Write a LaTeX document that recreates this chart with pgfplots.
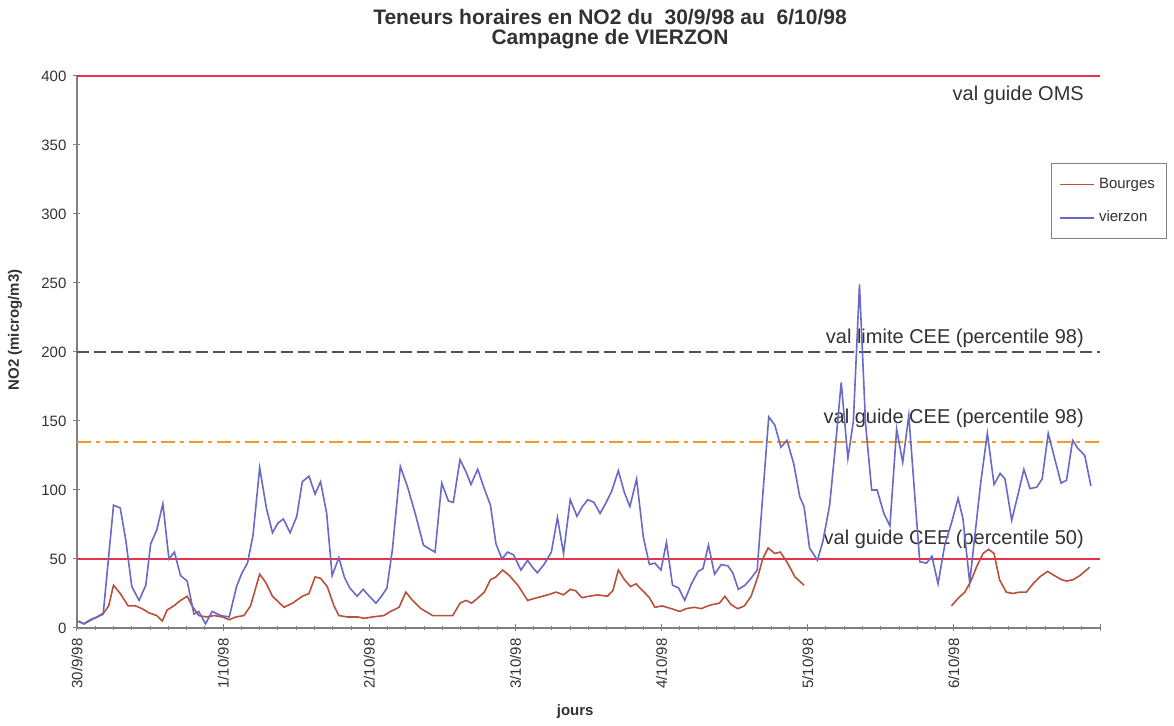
\documentclass[border=0pt]{standalone}
\usepackage{fontspec}
\setmainfont{Liberation Sans}
\usepackage{pgfplots}
\pgfplotsset{compat=1.18}
\usetikzlibrary{calc}

\definecolor{bourges}{RGB}{185,80,60}
\definecolor{vierzon}{RGB}{105,105,200}
\definecolor{refred}{RGB}{232,50,75}
\definecolor{refdark}{RGB}{85,75,115}
\definecolor{reforange}{RGB}{240,155,40}
\definecolor{txt}{RGB}{50,50,50}

\begin{document}
\begin{tikzpicture}[font=\fontsize{10}{12}\selectfont]
\begin{axis}[
    scale only axis, width=511.5pt, height=276pt,
    xmin=0, xmax=168, ymin=0, ymax=400,
    clip=false,
    axis x line=bottom, axis y line=left,
    axis line style={-, gray, line width=0.6pt},
    tick style={gray, line width=0.5pt},
    tick align=center, major tick length=3.5pt, minor tick length=2pt,
    xtick={0,24,...,168},
    xticklabels={30/9/98,1/10/98,2/10/98,3/10/98,4/10/98,5/10/98,6/10/98,{}},
    minor x tick num=7,
    ytick={0,50,...,400},
    /pgf/number format/assume math mode=true,
    xticklabel style={rotate=90, anchor=east, font=\fontsize{7.5}{9}\selectfont, text=txt},
    yticklabel style={font=\fontsize{7.5}{9}\selectfont, text=txt},
    xlabel={jours}, ylabel={NO2 (microg/m3)},
    xlabel style={at={(0.487,0)}, anchor=center, yshift=-42pt, font=\bfseries\fontsize{7.5}{9}\selectfont, text=txt},
    ylabel style={at={(0,0.54)}, anchor=center, yshift=31pt, font=\bfseries\fontsize{7.5}{9}\selectfont, text=txt},
    unbounded coords=jump,
    legend style={at={(0.952,0.842)}, anchor=north west, draw=gray, line width=0.5pt,
        font=\fontsize{7.5}{9}\selectfont, text=txt, row sep=6pt, inner xsep=4pt, inner ysep=5pt},
    legend cell align=left,
    legend image code/.code={\draw[#1] (0pt,0pt) -- (17pt,0pt);},
]
\coordinate (bbsw) at (rel axis cs:0,0);

% reference values
\node[anchor=east, text=txt] at (axis cs:166.5,386) {val guide OMS};
\node[anchor=east, text=txt] at (axis cs:166.5,210) {val limite CEE (percentile 98)};
\node[anchor=east, text=txt] at (axis cs:166.5,152) {val guide CEE (percentile 98)};
\node[anchor=east, text=txt] at (axis cs:166.5,64.5) {val guide CEE (percentile 50)};

\addplot[forget plot, refred, line width=0.6pt] coordinates {(0,400) (168,400)};
\addplot[forget plot, refdark, line width=0.6pt, dash pattern=on 6pt off 2.5pt] coordinates {(0,200) (168,200)};
\addplot[forget plot, reforange, line width=1pt, dash pattern=on 7pt off 2.5pt on 2pt off 2.5pt] coordinates {(0,135) (168,135)};
\addplot[forget plot, refred, line width=0.7pt] coordinates {(0,50) (168,50)};

% Bourges
\addplot[bourges, line width=0.8pt] coordinates {
(0.3,5) (1.1,3) (2.2,6) (3.3,8) (4.4,11) (5.2,16) (6.0,31) (7.1,25) (8.4,16) (9.6,16)
(10.7,14) (11.8,11) (13.1,9) (14.0,5) (14.8,13) (15.9,16) (17.0,20) (18.1,23) (18.9,16) (20.0,9)
(21.3,8) (22.5,9) (23.9,8) (25.0,6) (26.1,8) (27.4,9) (28.5,16) (30.0,39) (31.0,33) (32.1,23)
(34.0,15) (35.4,18) (37.0,23) (38.1,25) (39.1,37) (40.0,36) (41.1,30) (42.2,16) (43.0,9) (44.4,8)
(46.1,8) (47.2,7) (48.5,8) (50.4,9) (51.5,12) (52.9,15) (54.0,26) (55.1,20) (56.5,14) (58.4,9)
(60.0,9) (61.7,9) (62.9,18) (63.9,20) (64.8,18) (65.9,22) (66.9,26) (67.9,35) (68.8,37) (69.9,42)
(71.0,38) (72.4,31) (74.0,20) (75.6,22) (77.3,24) (78.7,26) (79.9,24) (81.0,28) (81.9,27) (82.9,22)
(84.1,23) (85.5,24) (87.1,23) (88.0,27) (88.9,42) (89.9,35) (90.9,30) (91.8,32) (92.9,27) (94.0,22)
(94.9,15) (96.1,16) (97.6,14) (99.0,12) (100.0,14) (101.4,15) (102.5,14) (103.6,16) (104.4,17) (105.5,18)
(106.4,23) (107.4,17) (108.5,14) (109.6,16) (110.7,23) (111.8,37) (112.6,50) (113.5,58) (114.6,54) (115.5,55)
(116.7,47) (117.9,37) (119.4,31)
(130,nan)
(143.6,16) (144.8,22) (145.8,26) (146.8,34) (147.7,44) (148.8,54) (149.7,57) (150.6,54) (151.5,35) (152.6,26)
(153.7,25) (154.8,26) (155.9,26) (157.0,32) (158.1,37) (159.4,41) (160.5,38) (161.7,35) (162.5,34) (163.6,35)
(164.7,38) (166.3,44)
};
\addlegendentry{Bourges}

% Vierzon
\addplot[vierzon, line width=0.8pt] coordinates {
(0,5) (1.2,3) (2.4,6) (4.3,10) (6.0,89) (7.1,87) (8.0,64) (9.0,30) (10.2,20) (11.3,31)
(12.1,61) (13.1,71) (14.1,90) (15.1,50) (16.0,55) (17.0,38) (18.1,34) (19.2,10) (20.0,12) (21.1,3)
(22.2,12) (23.6,9) (25.0,8) (26.2,30) (27.1,40) (28.0,47) (28.9,67) (30.0,116) (31.1,87) (32.1,69)
(33.0,76) (33.9,79) (35.0,69) (36.1,81) (37.0,106) (38.1,110) (39.1,97) (40.0,106) (41.0,83) (41.9,38)
(43.0,51) (43.9,37) (44.8,29) (46.0,23) (47.0,28) (48.0,23) (49.1,18) (50.0,23) (50.9,29) (51.8,57)
(53.1,117) (54.3,102) (55.6,82) (56.9,60) (58.0,57) (58.8,55) (59.9,105) (61.0,92) (61.8,91) (62.9,122)
(63.9,113) (64.7,104) (65.8,115) (66.8,102) (67.9,89) (68.8,61) (69.8,50) (70.7,55) (71.7,53) (72.9,42)
(74.0,49) (74.8,44) (75.6,40) (76.7,46) (77.9,55) (78.9,80) (79.9,54) (81.0,93) (82.1,81) (83.0,88)
(83.9,93) (84.9,91) (85.9,83) (86.9,91) (87.8,99) (88.9,114) (89.9,98) (90.8,88) (91.9,108) (93.0,66)
(94.0,46) (94.9,47) (95.9,42) (96.8,62) (97.8,31) (98.8,29) (99.8,20) (100.9,32) (102.0,41) (102.8,43)
(103.7,60) (104.7,39) (105.8,46) (106.9,45) (107.7,40) (108.6,28) (109.7,31) (110.7,36) (111.7,42) (112.6,95)
(113.6,153) (114.6,147) (115.6,131) (116.6,136) (117.7,119) (118.7,95) (119.4,88) (120.3,58) (121.6,49) (122.5,63)
(123.6,89) (124.6,134) (125.5,178) (126.6,123) (127.5,150) (128.5,249) (129.5,148) (130.5,100) (131.4,100) (132.5,83)
(133.5,74) (134.6,144) (135.6,120) (136.6,154) (137.6,95) (138.4,48) (139.5,47) (140.4,52) (141.4,32) (142.5,60)
(143.6,76) (144.7,94) (145.5,79) (146.6,33) (148.4,105) (149.5,141) (150.6,104) (151.6,112) (152.4,108) (153.5,78)
(154.6,98) (155.5,115) (156.5,101) (157.6,102) (158.5,108) (159.5,141) (160.6,122) (161.6,105) (162.5,107) (163.5,136)
(164.4,130) (165.5,125) (166.5,103)
};
\addlegendentry{vierzon}
\end{axis}

\node[align=center, text=txt, font=\bfseries\fontsize{10.5}{10}\selectfont]
    at ($(bbsw)+(266.5pt,299.5pt)$) {Teneurs horaires en NO2 du\ \ 30/9/98 au\ \ 6/10/98\\Campagne de VIERZON};

\pgfresetboundingbox
\path[use as bounding box] ($(bbsw)+(-38.5pt,-49pt)$) rectangle ($(bbsw)+(548.5pt,314pt)$);
\end{tikzpicture}
\end{document}
